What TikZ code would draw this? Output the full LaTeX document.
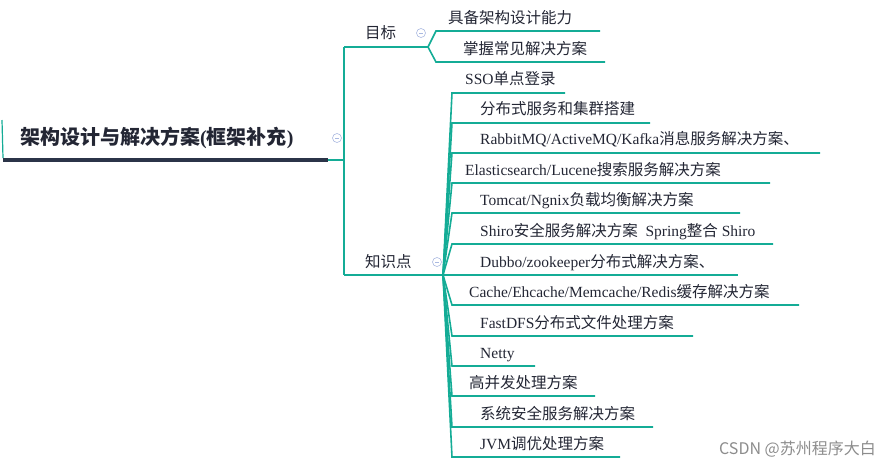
\documentclass[tikz,border=0pt]{standalone}
\usepackage{fontspec}
\setmainfont{Liberation Serif}
\newfontfamily\cjk{Noto Sans CJK SC}
\newcommand\lat[1]{{\rmfamily #1}}
\definecolor{branch}{RGB}{20,172,150}
\definecolor{rootline}{RGB}{43,52,72}
\definecolor{ink}{RGB}{35,38,52}
\definecolor{knob}{RGB}{170,185,225}
\tikzset{
  leaf/.style={anchor=base west,inner sep=0pt,text=ink,font=\fontsize{15.5}{17}\selectfont\cjk},
  wire/.style={draw=branch,line width=1.6pt},
  knobc/.style={circle,draw=knob,fill=white,minimum size=9pt,inner sep=0pt,line width=0.6pt},
}
\begin{document}
\begin{tikzpicture}[x=1pt,y=-1pt]
\useasboundingbox (0,0) rectangle (888,467);

  %% root
  \node[anchor=base west,inner sep=0pt,text=ink,font=\fontsize{20}{22}\selectfont\cjk\bfseries] (root) at (20,144) {架构设计与解决方案\lat{\bfseries(}框架补充\lat{\bfseries)}};
  \coordinate (rootL) at (3,160);
  \coordinate (rootR) at (328,160);
  \draw[wire,line width=1.2pt] (2,120) -- (3,158);
  \draw[draw=rootline,line width=3.5pt] (rootL) -- (rootR);
  \coordinate (trunkT) at (344,47);
  \coordinate (trunkB) at (344,275);
  \draw[wire] (rootR) -- (344,160);
  \draw[wire] (trunkT) -- (trunkB);
  \node[knobc] (k0) at (337,138) {}; \draw[knob] ([xshift=-2pt]k0.center) -- ([xshift=2pt]k0.center);

  %% goal
  \node[leaf] (goal) at (365,38) {目标};
  \coordinate (goalR) at (428,47);
  \draw[wire] (trunkT) -- (goalR);
  \node[knobc] (k1) at (421,33) {}; \draw[knob] ([xshift=-2pt]k1.center) -- ([xshift=2pt]k1.center);
  \node[leaf] (g1) at (448,23) {具备架构设计能力};
  \node[leaf] (g2) at (463,54) {掌握常见解决方案};
  \draw[wire] (goalR) -- (436,31) -- (600,31);
  \draw[wire] (goalR) -- (436,62) -- (605,62);

  %% topics
  \node[leaf] (topic) at (365,267) {知识点};
  \coordinate (fan) at (443,275);
  \draw[wire] (trunkB) -- (fan);
  \node[knobc] (k2) at (437,262) {}; \draw[knob] ([xshift=-2pt]k2.center) -- ([xshift=2pt]k2.center);

  \node[leaf] (t1) at (465,84) {\lat{SSO}单点登录};
  \node[leaf] (t2) at (480,114) {分布式服务和集群搭建};
  \node[leaf] (t3) at (480,144) {\lat{RabbitMQ/ActiveMQ/Kafka}消息服务解决方案、};
  \node[leaf] (t4) at (465,175) {\lat{Elasticsearch/Lucene}搜索服务解决方案};
  \node[leaf] (t5) at (480,205) {\lat{Tomcat/Ngnix}负载均衡解决方案};
  \node[leaf] (t6) at (480,236) {\lat{Shiro}安全服务解决方案\enspace\lat{Spring}整合\lat{ Shiro}};
  \node[leaf] (t7) at (480,267) {\lat{Dubbo/zookeeper}分布式解决方案、};
  \node[leaf] (t8) at (469,297) {\lat{Cache/Ehcache/Memcache/Redis}缓存解决方案};
  \node[leaf] (t9) at (480,328) {\lat{FastDFS}分布式文件处理方案};
  \node[leaf] (t10) at (480,358) {\lat{Netty}};
  \node[leaf] (t11) at (469,388) {高并发处理方案};
  \node[leaf] (t12) at (480,419) {系统安全服务解决方案};
  \node[leaf] (t13) at (480,449) {\lat{JVM}调优处理方案};

  \draw[wire] (fan) -- (452,93) -- (565,93);
  \draw[wire] (fan) -- (452,123) -- (650,123);
  \draw[wire] (fan) -- (452,153) -- (820,153);
  \draw[wire] (fan) -- (452,183) -- (770,183);
  \draw[wire] (fan) -- (452,213) -- (740,213);
  \draw[wire] (fan) -- (452,244) -- (773,244);
  \draw[wire] (fan) -- (452,275) -- (738,275);
  \draw[wire] (fan) -- (452,305) -- (799,305);
  \draw[wire] (fan) -- (452,336) -- (693,336);
  \draw[wire] (fan) -- (452,366) -- (535,366);
  \draw[wire] (fan) -- (452,396) -- (595,396);
  \draw[wire] (fan) -- (452,427) -- (653,427);
  \draw[wire] (fan) -- (452,457) -- (620,457);

  %% watermark
  \node[anchor=base east,inner sep=0pt,text=black!45,font=\fontsize{16}{18}\selectfont\cjk] (mark) at (876,454) {CSDN @苏州程序大白};

\end{tikzpicture}
\end{document}
